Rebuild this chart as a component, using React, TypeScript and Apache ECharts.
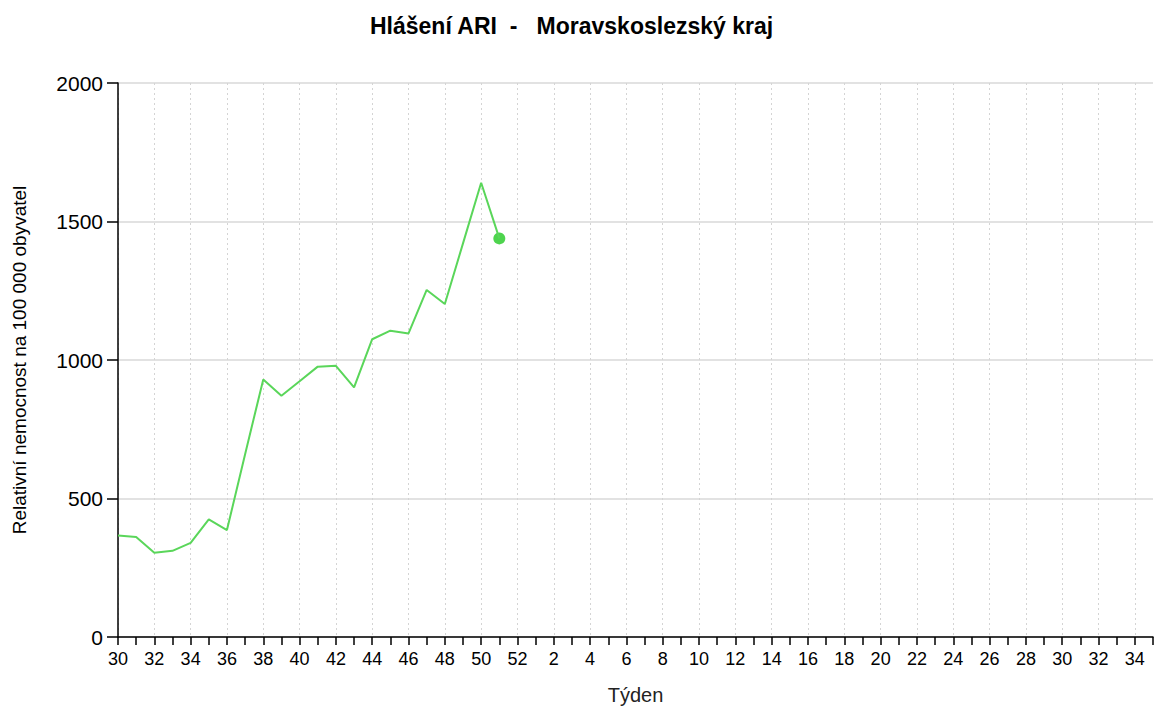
import React, { useEffect, useRef } from "react";
import * as echarts from "echarts";

const weeks: string[] = [
  "30","31","32","33","34","35","36","37","38","39","40","41","42","43","44","45","46","47","48","49","50","51","52",
  "1","2","3","4","5","6","7","8","9","10","11","12","13","14","15","16","17","18","19","20","21","22","23","24","25","26","27","28","29","30","31","32","33","34","35",
];

const ariValues: (number | null)[] = [
  366, 361, 304, 311, 340, 425, 386, 660, 930, 871, 923, 976, 979, 901, 1075, 1106, 1096, 1253, 1202, 1421, 1640, 1439,
];

const titleText = "Hlášení ARI  -   Moravskoslezský kraj";
const xName = "Týden";
const yName = "Relativní nemocnost na 100 000 obyvatel";

export default function App() {
  const ref = useRef<HTMLDivElement>(null);
  useEffect(() => {
    if (!ref.current) return;
    const chart = echarts.init(ref.current, null, { renderer: "svg" });
    const lineData = weeks.map((_, i) => (i < ariValues.length ? ariValues[i] : null));
    const lastIdx = ariValues.length - 1;
    const dotData = weeks.map((_, i) => (i === lastIdx ? ariValues[i] : null));
    chart.setOption({
      animation: false,
      backgroundColor: "#ffffff",
      textStyle: { fontFamily: "Liberation Sans, Arial, sans-serif" },
      title: {
        text: titleText,
        left: 365,
        top: 9,
        textStyle: { fontSize: 23, fontWeight: "bold", color: "#000", fontFamily: "Liberation Sans, Arial, sans-serif" },
      },
      grid: { left: 118, right: 4, top: 83, bottom: 70, containLabel: false, outerBoundsMode: "none" },
      xAxis: {
        type: "category",
        data: weeks,
        boundaryGap: false,
        name: xName,
        nameLocation: "middle",
        nameGap: 48,
        nameTextStyle: { fontSize: 20, color: "#222" },
        axisLine: { show: true, lineStyle: { color: "#000", width: 1.5 } },
        axisTick: { show: true, interval: 0, length: 8, lineStyle: { color: "#000", width: 1.5 } },
        axisLabel: { interval: 1, fontSize: 18, color: "#000", margin: 13 },
        splitLine: { show: true, interval: 1, lineStyle: { color: "#d4d4d4", type: [2, 3], width: 1 } },
      },
      yAxis: {
        type: "value",
        min: 0,
        max: 2000,
        interval: 500,
        name: yName,
        nameLocation: "middle",
        nameGap: 89,
        nameRotate: 90,
        nameTextStyle: { fontSize: 19, color: "#000" },
        axisLine: { show: true, lineStyle: { color: "#000", width: 1.5 } },
        axisTick: { show: true, length: 11, lineStyle: { color: "#000", width: 1.5 } },
        axisLabel: { fontSize: 21, color: "#000", margin: 15, formatter: (v: number) => String(v) },
        splitLine: { show: true, lineStyle: { color: "#d9d9d9", width: 1.5 } },
      },
      series: [
        {
          type: "line",
          data: lineData,
          showSymbol: false,
          symbol: "none",
          lineStyle: { color: "#5ad65a", width: 2 },
          connectNulls: false,
        },
        {
          type: "scatter",
          data: dotData,
          symbol: "circle",
          symbolSize: 12,
          itemStyle: { color: "#22c922" },
        },
      ],
    });
    return () => chart.dispose();
  }, []);
  return (
    <div
      ref={ref}
      style={{ position: "fixed", left: 0, top: 0, width: 1157, height: 707 }}
    />
  );
}
